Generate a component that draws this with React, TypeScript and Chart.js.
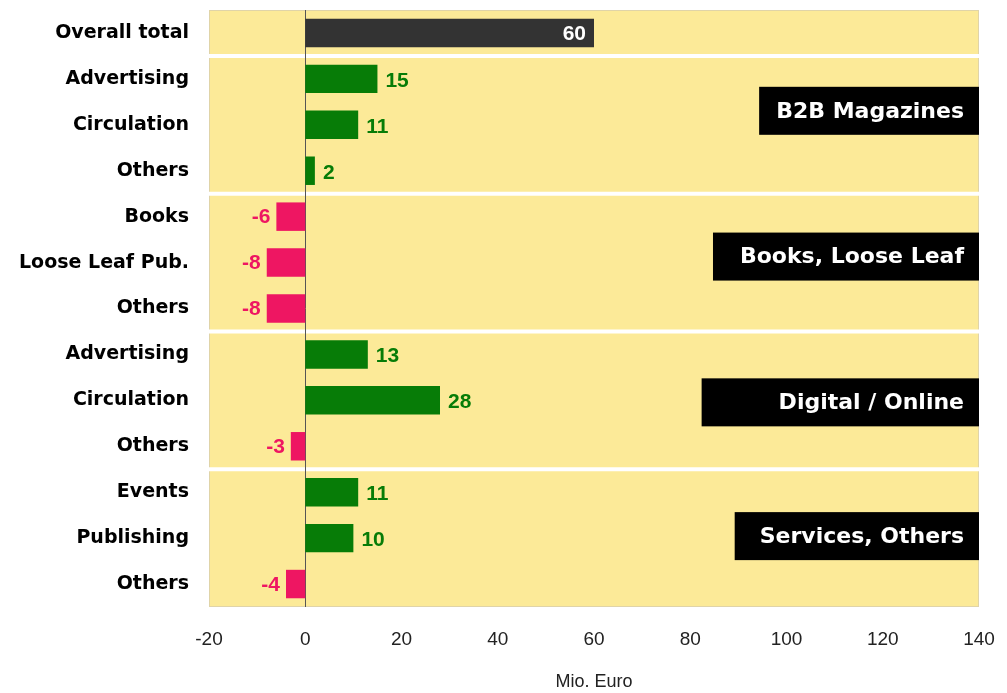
import React, { useEffect, useRef } from "react";
import { Chart, registerables } from "chart.js";

Chart.register(...registerables);

const categories = [
  "Overall total",
  "Advertising",
  "Circulation",
  "Others",
  "Books",
  "Loose Leaf Pub.",
  "Others",
  "Advertising",
  "Circulation",
  "Others",
  "Events",
  "Publishing",
  "Others",
];
const values = [60, 15, 11, 2, -6, -8, -8, 13, 28, -3, 11, 10, -4];
const groupNames = ["B2B Magazines", "Books, Loose Leaf", "Digital / Online", "Services, Others"];
const groupMiddleIndex = [2, 5, 8, 11];
const separatorAfterIndex = [0, 3, 6, 9];
const xTicks = [-20, 0, 20, 40, 60, 80, 100, 120, 140];

const YELLOW = "#FCEA98";
const GREEN = "#077C07";
const PINK = "#EE1662";
const DARK = "#333333";

export default function App() {
  const ref = useRef<HTMLCanvasElement | null>(null);
  useEffect(() => {
    document.body.style.margin = "0";
    const canvas = ref.current;
    if (!canvas) return;

    const boxShift = [-14, -6, 2, -2];
    const boxExtraLeft = [0, 10, 60, 8];

    const bgPlugin = {
      id: "bgPlugin",
      beforeDatasetsDraw(chart: any) {
        const { ctx, chartArea } = chart;
        const y = chart.scales.y;
        const x = chart.scales.x;
        ctx.save();
        ctx.fillStyle = YELLOW;
        ctx.fillRect(chartArea.left, chartArea.top, chartArea.right - chartArea.left, chartArea.bottom - chartArea.top);
        ctx.strokeStyle = "#E0D4A8";
        ctx.lineWidth = 1;
        ctx.strokeRect(chartArea.left + 0.5, chartArea.top + 0.5, chartArea.right - chartArea.left - 1, chartArea.bottom - chartArea.top - 1);
        ctx.strokeStyle = "#FFFFFF";
        ctx.lineWidth = 4;
        separatorAfterIndex.forEach((i) => {
          const yy = (y.getPixelForValue(i) + y.getPixelForValue(i + 1)) / 2;
          ctx.beginPath();
          ctx.moveTo(chartArea.left, yy);
          ctx.lineTo(chartArea.right, yy);
          ctx.stroke();
        });
        const x0 = Math.round(x.getPixelForValue(0)) + 0.5;
        ctx.strokeStyle = "#555555";
        ctx.lineWidth = 1;
        ctx.beginPath();
        ctx.moveTo(x0, chartArea.top);
        ctx.lineTo(x0, chartArea.bottom);
        ctx.stroke();
        ctx.restore();
      },
      afterDatasetsDraw(chart: any) {
        const { ctx, chartArea } = chart;
        const y = chart.scales.y;
        const meta = chart.getDatasetMeta(0);
        ctx.save();
        ctx.font = "bold 21px 'Liberation Sans', Arial, sans-serif";
        ctx.textBaseline = "middle";
        meta.data.forEach((bar: any, i: number) => {
          const v = values[i];
          if (i === 0) {
            ctx.fillStyle = "#FFFFFF";
            ctx.textAlign = "right";
            ctx.fillText(String(v), bar.x - 8, bar.y + 1);
          } else if (v >= 0) {
            ctx.fillStyle = GREEN;
            ctx.textAlign = "left";
            ctx.fillText(String(v), bar.x + 8, bar.y + 2);
          } else {
            ctx.fillStyle = PINK;
            ctx.textAlign = "right";
            ctx.fillText(String(v), bar.x - 6, bar.y + 1);
          }
        });
        ctx.font = "bold 22px 'DejaVu Sans', sans-serif";
        groupNames.forEach((name, g) => {
          const cy = y.getPixelForValue(groupMiddleIndex[g]) + boxShift[g];
          const w = ctx.measureText(name).width;
          const h = 48;
          const right = chartArea.right;
          const left = right - w - 32 - boxExtraLeft[g];
          ctx.fillStyle = "#000000";
          ctx.fillRect(left, cy - h / 2, right - left, h);
          ctx.fillStyle = "#FFFFFF";
          ctx.textAlign = "right";
          ctx.fillText(name, right - 15, cy + 1);
        });
        ctx.restore();
      },
    };

    const chart = new Chart(canvas, {
      type: "bar",
      data: {
        labels: categories,
        datasets: [
          {
            data: values,
            backgroundColor: values.map((v, i) => (i === 0 ? DARK : v >= 0 ? GREEN : PINK)),
            barPercentage: 0.62,
            categoryPercentage: 1,
          },
        ],
      },
      options: {
        indexAxis: "y",
        responsive: false,
        animation: false,
        maintainAspectRatio: false,
        layout: { padding: { top: 10, right: 28, left: 0, bottom: 0 } },
        plugins: { legend: { display: false }, tooltip: { enabled: false } },
        scales: {
          x: {
            min: -20,
            max: 140,
            afterBuildTicks(scale: any) {
              scale.ticks = xTicks.map((v) => ({ value: v }));
            },
            grid: { display: false, drawTicks: false },
            border: { display: false },
            ticks: {
              color: "#222222",
              padding: 21,
              font: { family: "'Liberation Sans', Arial, sans-serif", size: 19 },
            },
            title: {
              display: true,
              text: "Mio. Euro",
              color: "#222222",
              padding: { top: 6, bottom: 0 },
              font: { family: "'Liberation Sans', Arial, sans-serif", size: 18 },
            },
            afterFit(scale: any) {
              scale.height = 86;
              scale.paddingLeft = 0;
              scale.paddingRight = 0;
            },
          },
          y: {
            grid: { display: false, drawTicks: false },
            border: { display: false },
            ticks: {
              color: "#000000",
              padding: 20,
              autoSkip: false,
              font: { family: "'DejaVu Sans', sans-serif", size: 19, weight: "bold" },
            },
            afterFit(scale: any) {
              scale.width = 209;
              scale.paddingTop = 0;
              scale.paddingBottom = 0;
            },
          },
        },
      },
      plugins: [bgPlugin],
    } as any);
    return () => chart.destroy();
  }, []);
  return <canvas ref={ref} width={1007} height={693} style={{ display: "block" }} />;
}
